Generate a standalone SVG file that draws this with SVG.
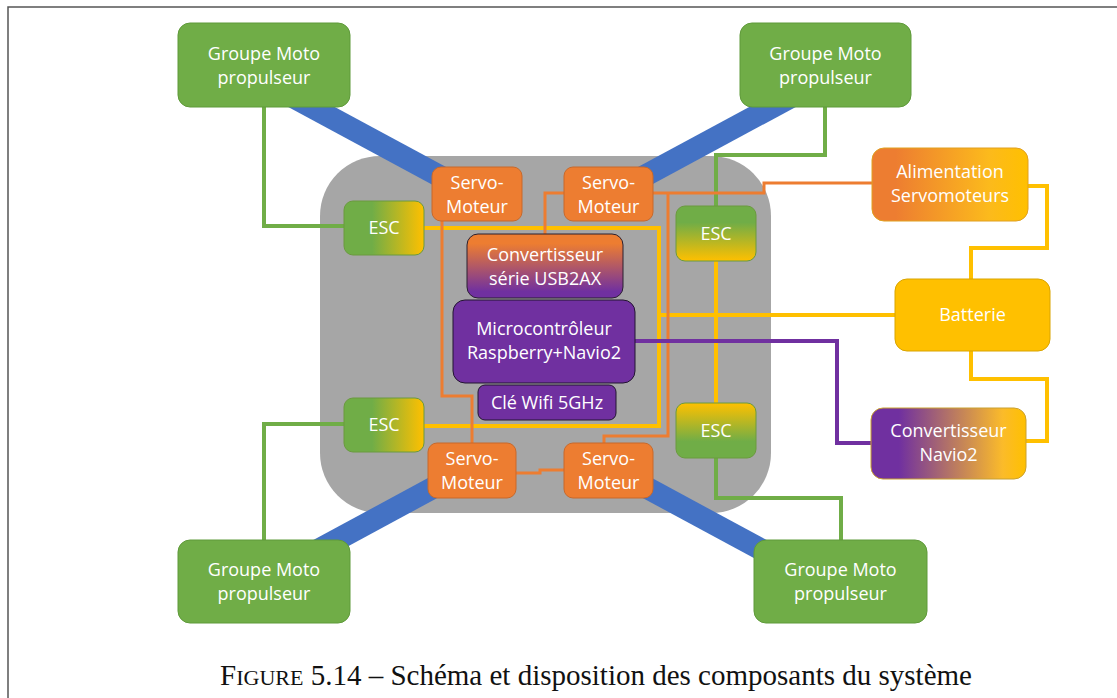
<svg xmlns="http://www.w3.org/2000/svg" width="1117" height="698" viewBox="0 0 1117 698">
<defs>
<linearGradient id="escH" x1="0" y1="0" x2="1" y2="0"><stop offset="0" stop-color="#70ad47"/><stop offset="0.35" stop-color="#70ad47"/><stop offset="1" stop-color="#ffc000"/></linearGradient>
<linearGradient id="escTB" x1="0" y1="0" x2="0" y2="1"><stop offset="0" stop-color="#70ad47"/><stop offset="0.3" stop-color="#70ad47"/><stop offset="1" stop-color="#ffc000"/></linearGradient>
<linearGradient id="escBT" x1="0" y1="0" x2="0" y2="1"><stop offset="0" stop-color="#ffc000"/><stop offset="0.7" stop-color="#70ad47"/><stop offset="1" stop-color="#70ad47"/></linearGradient>
<linearGradient id="usb" x1="0" y1="0" x2="0" y2="1"><stop offset="0" stop-color="#ed7d31"/><stop offset="0.15" stop-color="#ed7d31"/><stop offset="0.9" stop-color="#7030a0"/><stop offset="1" stop-color="#7030a0"/></linearGradient>
<linearGradient id="alim" x1="0" y1="0" x2="1" y2="0"><stop offset="0" stop-color="#ed7d31"/><stop offset="0.15" stop-color="#ed7d31"/><stop offset="0.75" stop-color="#fcba1c"/><stop offset="1" stop-color="#ffc000"/></linearGradient>
<linearGradient id="navio" x1="0" y1="0" x2="1" y2="0"><stop offset="0" stop-color="#7030a0"/><stop offset="0.18" stop-color="#7030a0"/><stop offset="0.85" stop-color="#fbbb2a"/><stop offset="1" stop-color="#ffc000"/></linearGradient>
<style>
.t{font-family:"Open Sans","Noto Sans",sans-serif;font-size:18px;fill:#ffffff;text-anchor:middle}
.grp{fill:#70ad47;stroke:#5f9a3a;stroke-width:1}
.servo{fill:#ed7d31;stroke:#c8692b;stroke-width:1}
.esc{stroke:#6a9a3e;stroke-width:1}
.pur{fill:#7030a0;stroke:#231530;stroke-width:1}
.arm{stroke:#4472c4;stroke-width:22;fill:none}
.w{fill:none;stroke-linejoin:miter}
.g{stroke:#70ad47;stroke-width:4}
.y{stroke:#ffc000;stroke-width:4}
.o{stroke:#ed7d31;stroke-width:3}
.p{stroke:#7030a0;stroke-width:4}
</style>
</defs>
<rect width="1117" height="698" fill="#ffffff"/>
<path d="M8,698 V7 H1117" fill="none" stroke="#555555" stroke-width="1.5"/>

<g id="body"><rect x="320" y="156" width="451" height="357" rx="60" fill="#a6a6a6"/></g>

<g id="arms">
<line class="arm" x1="471" y1="193" x2="267" y2="83"/>
<line class="arm" x1="613" y1="193" x2="817" y2="83"/>
<line class="arm" x1="466" y1="470" x2="281" y2="570"/>
<line class="arm" x1="614" y1="470" x2="799" y2="570"/>
</g>

<g id="connectors">
<path class="w g" d="M264,106 V226 H344"/>
<path class="w g" d="M264,540 V424 H344"/>
<path class="w g" d="M825,106 V155 H716 V206"/>
<path class="w g" d="M716,458 V498 H841 V540"/>
<path class="w y" d="M424,228 H659 V426 H424"/>
<path class="w y" d="M659,315 H895"/>
<path class="w y" d="M716,261 V403"/>
<path class="w y" d="M1028,186 H1047 V248 H971 V279"/>
<path class="w y" d="M971,351 V379 H1047 V441 H1026"/>
<path class="w o" d="M872,183 H764 V193 H653"/>
<path class="w o" d="M668,193 V436 H604 V443"/>
<path class="w o" d="M545,234 V193 H564"/>
<path class="w o" d="M442,221 V396 H472 V443"/>
<path class="w o" d="M516,473 H540 V470 H564"/>
<path class="w p" d="M635,341 H837 V443 H871"/>
</g>

<g id="gmp-tl"><rect class="grp" x="178" y="23" width="172" height="84" rx="12"/><text class="t" x="264" y="60">Groupe Moto</text><text class="t" x="264" y="84">propulseur</text></g>
<g id="gmp-tr"><rect class="grp" x="740" y="23" width="171" height="84" rx="12"/><text class="t" x="825.5" y="60">Groupe Moto</text><text class="t" x="825.5" y="84">propulseur</text></g>
<g id="gmp-bl"><rect class="grp" x="178" y="540" width="172" height="83" rx="12"/><text class="t" x="264" y="576">Groupe Moto</text><text class="t" x="264" y="600">propulseur</text></g>
<g id="gmp-br"><rect class="grp" x="754" y="540" width="173" height="83" rx="12"/><text class="t" x="840.5" y="576">Groupe Moto</text><text class="t" x="840.5" y="600">propulseur</text></g>

<g id="servo-tl"><rect class="servo" x="432" y="167" width="90" height="54" rx="9"/><text class="t" x="477" y="189">Servo-</text><text class="t" x="477" y="213">Moteur</text></g>
<g id="servo-tr"><rect class="servo" x="564" y="167" width="89" height="54" rx="9"/><text class="t" x="608.5" y="189">Servo-</text><text class="t" x="608.5" y="213">Moteur</text></g>
<g id="servo-bl"><rect class="servo" x="428" y="443" width="88" height="55" rx="9"/><text class="t" x="472" y="465">Servo-</text><text class="t" x="472" y="489">Moteur</text></g>
<g id="servo-br"><rect class="servo" x="564" y="443" width="89" height="55" rx="9"/><text class="t" x="608.5" y="465">Servo-</text><text class="t" x="608.5" y="489">Moteur</text></g>

<g id="esc-tl"><rect class="esc" x="344" y="201" width="80" height="54" rx="9" fill="url(#escH)"/><text class="t" x="384" y="234">ESC</text></g>
<g id="esc-bl"><rect class="esc" x="344" y="398" width="80" height="54" rx="9" fill="url(#escH)"/><text class="t" x="384" y="431">ESC</text></g>
<g id="esc-tr"><rect class="esc" x="676" y="206" width="80" height="55" rx="9" fill="url(#escTB)"/><text class="t" x="716" y="240">ESC</text></g>
<g id="esc-br"><rect class="esc" x="676" y="403" width="80" height="55" rx="9" fill="url(#escBT)"/><text class="t" x="716" y="437">ESC</text></g>

<g id="usb2ax"><rect x="467" y="234" width="156" height="64" rx="11" fill="url(#usb)" stroke="#2b2030" stroke-width="1"/><text class="t" x="545" y="261">Convertisseur</text><text class="t" x="545" y="285">série USB2AX</text></g>
<g id="micro"><rect class="pur" x="453" y="300" width="182" height="83" rx="12"/><text class="t" x="544" y="335">Microcontrôleur</text><text class="t" x="544" y="359">Raspberry+Navio2</text></g>
<g id="wifi"><rect class="pur" x="478" y="385" width="138" height="35" rx="7"/><text class="t" x="547" y="409">Clé Wifi 5GHz</text></g>

<g id="alim-servo"><rect x="872" y="148" width="156" height="73" rx="12" fill="url(#alim)" stroke="#e0a020" stroke-width="1"/><text class="t" x="950" y="178">Alimentation</text><text class="t" x="950" y="202">Servomoteurs</text></g>
<g id="batterie"><rect x="895" y="279" width="155" height="72" rx="12" fill="#ffc000" stroke="#d9a400" stroke-width="1"/><text class="t" x="972.5" y="321">Batterie</text></g>
<g id="conv-navio"><rect x="871" y="408" width="155" height="71" rx="12" fill="url(#navio)" stroke="#c9a030" stroke-width="1"/><text class="t" x="948.5" y="437">Convertisseur</text><text class="t" x="948.5" y="461">Navio2</text></g>

<text x="596" y="685" font-family="'Liberation Serif','DejaVu Serif',serif" font-size="29" fill="#111111" text-anchor="middle">F<tspan font-size="22">IGURE</tspan> 5.14 – Schéma et disposition des composants du système</text>
</svg>
